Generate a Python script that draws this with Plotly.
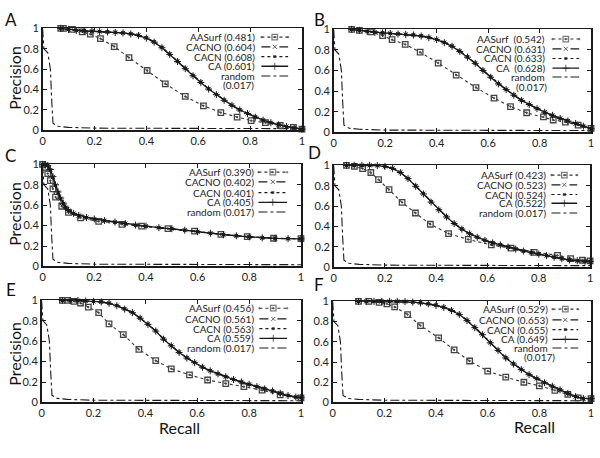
import plotly.graph_objects as go

W, H = 600, 458
FONT = "Lato"

# ---------------- data ----------------
tick_vals = [0, 0.2, 0.4, 0.6, 0.8, 1]
tick_text = ["0", "0.2", "0.4", "0.6", "0.8", "1"]

random_r = [0.0, 0.005, 0.02, 0.03, 0.035, 0.04, 0.06, 0.1, 0.2, 0.4, 0.6, 0.8, 1.0]
random_p = [1.0, 0.80, 0.76, 0.60, 0.30, 0.07, 0.04, 0.03, 0.022, 0.019, 0.018, 0.017, 0.017]

# Panel A
A_aas_r = [0.07, 0.08, 0.115, 0.153, 0.184, 0.223, 0.276, 0.333, 0.403, 0.473, 0.55, 0.62, 0.687, 0.75, 0.804, 0.859, 0.916, 0.967, 1.0]
A_aas_p = [1.0, 1.0, 0.99, 0.965, 0.943, 0.9, 0.822, 0.714, 0.587, 0.457, 0.333, 0.241, 0.175, 0.13, 0.095, 0.076, 0.048, 0.029, 0.013]
A_ca_r = [0.07, 0.1, 0.13, 0.16, 0.19, 0.22, 0.25, 0.28, 0.31, 0.34, 0.37, 0.40, 0.43, 0.46, 0.49, 0.52, 0.55, 0.58, 0.61, 0.64, 0.67, 0.70, 0.73, 0.76, 0.79, 0.82, 0.85, 0.88, 0.91, 0.94, 0.97, 1.0]
A_ca_p = [1.0, 0.99, 0.98, 0.975, 0.972, 0.968, 0.965, 0.96, 0.955, 0.945, 0.93, 0.905, 0.865, 0.81, 0.745, 0.675, 0.605, 0.535, 0.47, 0.405, 0.35, 0.295, 0.245, 0.2, 0.165, 0.13, 0.1, 0.075, 0.055, 0.038, 0.024, 0.012]
A_cacno_p = [1.0, 0.99, 0.98, 0.976, 0.972, 0.969, 0.965, 0.961, 0.956, 0.946, 0.932, 0.907, 0.867, 0.812, 0.747, 0.677, 0.607, 0.537, 0.472, 0.407, 0.351, 0.296, 0.246, 0.201, 0.166, 0.131, 0.1, 0.075, 0.055, 0.038, 0.024, 0.012]
A_cacn_p = [1.0, 0.99, 0.98, 0.976, 0.973, 0.969, 0.966, 0.962, 0.957, 0.947, 0.933, 0.908, 0.868, 0.814, 0.749, 0.679, 0.609, 0.539, 0.474, 0.409, 0.352, 0.297, 0.247, 0.202, 0.166, 0.131, 0.101, 0.076, 0.055, 0.038, 0.024, 0.012]

# Panel B
B_aas_r = [0.07, 0.1, 0.144, 0.19, 0.227, 0.278, 0.336, 0.406, 0.476, 0.553, 0.623, 0.687, 0.75, 0.815, 0.853, 0.9, 0.95, 1.0]
B_aas_p = [1.0, 0.99, 0.975, 0.94, 0.9, 0.854, 0.778, 0.673, 0.556, 0.435, 0.333, 0.25, 0.19, 0.15, 0.12, 0.1, 0.07, 0.038]
B_ca_r = [0.07, 0.1, 0.13, 0.16, 0.19, 0.22, 0.25, 0.28, 0.31, 0.34, 0.37, 0.40, 0.43, 0.46, 0.49, 0.52, 0.55, 0.58, 0.61, 0.64, 0.67, 0.70, 0.73, 0.76, 0.79, 0.82, 0.85, 0.88, 0.91, 0.94, 0.97, 1.0]
B_ca_p = [1.0, 0.99, 0.98, 0.97, 0.965, 0.96, 0.955, 0.95, 0.945, 0.935, 0.92, 0.9, 0.87, 0.835, 0.785, 0.73, 0.67, 0.6, 0.535, 0.47, 0.415, 0.36, 0.31, 0.27, 0.23, 0.195, 0.165, 0.135, 0.11, 0.085, 0.06, 0.035]
B_cacno_p = [1.0, 0.99, 0.98, 0.971, 0.966, 0.961, 0.956, 0.951, 0.946, 0.936, 0.921, 0.901, 0.872, 0.837, 0.787, 0.732, 0.672, 0.602, 0.537, 0.472, 0.416, 0.361, 0.311, 0.27, 0.23, 0.195, 0.165, 0.135, 0.11, 0.085, 0.06, 0.035]
B_cacn_p = [1.0, 0.99, 0.98, 0.971, 0.966, 0.961, 0.956, 0.951, 0.946, 0.937, 0.922, 0.902, 0.873, 0.838, 0.788, 0.733, 0.673, 0.603, 0.538, 0.473, 0.417, 0.362, 0.312, 0.271, 0.231, 0.196, 0.166, 0.136, 0.11, 0.085, 0.06, 0.035]

# Panel C
C_aas_r = [0.0, 0.01, 0.02, 0.03, 0.04, 0.05, 0.074, 0.1, 0.147, 0.217, 0.307, 0.383, 0.485, 0.588, 0.69, 0.792, 0.894, 1.0]
C_aas_p = [1.0, 0.97, 0.91, 0.84, 0.76, 0.68, 0.59, 0.53, 0.476, 0.441, 0.413, 0.394, 0.371, 0.346, 0.314, 0.292, 0.276, 0.273]
C_ca_r = [0.0, 0.01, 0.02, 0.03, 0.04, 0.05, 0.06, 0.07, 0.08, 0.09, 0.1, 0.12, 0.14, 0.17, 0.2, 0.24, 0.28, 0.32, 0.36, 0.4, 0.45, 0.5, 0.55, 0.6, 0.65, 0.7, 0.75, 0.8, 0.85, 0.9, 0.95, 1.0]
C_ca_p = [1.0, 1.0, 0.99, 0.95, 0.88, 0.8, 0.73, 0.67, 0.62, 0.58, 0.55, 0.52, 0.5, 0.48, 0.465, 0.45, 0.435, 0.42, 0.405, 0.395, 0.38, 0.37, 0.355, 0.34, 0.325, 0.31, 0.3, 0.29, 0.28, 0.275, 0.272, 0.27]
C_cacno_p = [1.0, 1.0, 0.99, 0.945, 0.875, 0.795, 0.725, 0.665, 0.615, 0.578, 0.548, 0.519, 0.499, 0.479, 0.464, 0.449, 0.434, 0.419, 0.404, 0.394, 0.38, 0.37, 0.355, 0.34, 0.325, 0.31, 0.3, 0.29, 0.28, 0.275, 0.272, 0.27]
C_cacn_p = [1.0, 1.0, 0.99, 0.943, 0.872, 0.792, 0.722, 0.662, 0.613, 0.576, 0.547, 0.518, 0.498, 0.479, 0.464, 0.449, 0.434, 0.419, 0.404, 0.394, 0.38, 0.37, 0.355, 0.34, 0.325, 0.31, 0.3, 0.29, 0.28, 0.275, 0.272, 0.27]

# Panel D
D_aas_r = [0.05, 0.081, 0.113, 0.145, 0.175, 0.216, 0.267, 0.319, 0.377, 0.448, 0.525, 0.615, 0.692, 0.782, 0.873, 0.924, 0.97, 1.0]
D_aas_p = [1.0, 0.99, 0.968, 0.93, 0.86, 0.763, 0.637, 0.533, 0.423, 0.331, 0.274, 0.22, 0.189, 0.148, 0.117, 0.085, 0.07, 0.063]
D_ca_r = [0.05, 0.08, 0.11, 0.14, 0.17, 0.2, 0.23, 0.26, 0.29, 0.32, 0.35, 0.38, 0.41, 0.44, 0.47, 0.5, 0.53, 0.56, 0.59, 0.62, 0.65, 0.68, 0.71, 0.74, 0.77, 0.8, 0.83, 0.86, 0.89, 0.92, 0.95, 0.98, 1.0]
D_ca_p = [1.0, 1.0, 1.0, 1.0, 0.998, 0.99, 0.97, 0.93, 0.87, 0.795, 0.72, 0.64, 0.565, 0.495, 0.43, 0.375, 0.33, 0.295, 0.265, 0.24, 0.22, 0.2, 0.18, 0.16, 0.145, 0.13, 0.115, 0.1, 0.085, 0.072, 0.065, 0.06, 0.058]
D_cacno_p = [1.0, 1.0, 1.0, 1.0, 0.998, 0.99, 0.971, 0.931, 0.871, 0.797, 0.722, 0.642, 0.566, 0.496, 0.431, 0.376, 0.331, 0.296, 0.266, 0.241, 0.22, 0.2, 0.18, 0.16, 0.145, 0.13, 0.115, 0.1, 0.085, 0.072, 0.065, 0.06, 0.058]
D_cacn_p = [1.0, 1.0, 1.0, 1.0, 0.998, 0.99, 0.971, 0.932, 0.872, 0.798, 0.723, 0.643, 0.567, 0.497, 0.432, 0.377, 0.331, 0.296, 0.266, 0.241, 0.221, 0.201, 0.181, 0.16, 0.145, 0.13, 0.115, 0.1, 0.085, 0.072, 0.065, 0.06, 0.058]

# Panel E
E_aas_r = [0.08, 0.1, 0.125, 0.15, 0.18, 0.22, 0.26, 0.315, 0.375, 0.44, 0.5, 0.57, 0.64, 0.71, 0.78, 0.85, 0.92, 1.0]
E_aas_p = [1.0, 1.0, 0.99, 0.975, 0.935, 0.88, 0.77, 0.665, 0.52, 0.41, 0.33, 0.27, 0.22, 0.185, 0.155, 0.12, 0.075, 0.045]
E_ca_r = [0.08, 0.11, 0.14, 0.17, 0.2, 0.23, 0.26, 0.29, 0.32, 0.35, 0.38, 0.41, 0.44, 0.47, 0.5, 0.53, 0.56, 0.59, 0.62, 0.65, 0.68, 0.71, 0.74, 0.77, 0.8, 0.83, 0.86, 0.89, 0.92, 0.95, 0.98, 1.0]
E_ca_p = [1.0, 1.0, 1.0, 0.995, 0.99, 0.985, 0.972, 0.948, 0.915, 0.88, 0.825, 0.765, 0.7, 0.62, 0.555, 0.49, 0.435, 0.39, 0.345, 0.31, 0.28, 0.252, 0.225, 0.2, 0.178, 0.155, 0.133, 0.113, 0.09, 0.068, 0.053, 0.048]
E_cacno_p = [1.0, 1.0, 1.0, 0.995, 0.99, 0.985, 0.973, 0.949, 0.917, 0.882, 0.827, 0.767, 0.702, 0.622, 0.557, 0.492, 0.437, 0.391, 0.346, 0.311, 0.281, 0.252, 0.225, 0.2, 0.178, 0.155, 0.133, 0.113, 0.09, 0.068, 0.053, 0.048]
E_cacn_p = [1.0, 1.0, 1.0, 0.995, 0.99, 0.986, 0.973, 0.95, 0.918, 0.883, 0.828, 0.768, 0.703, 0.623, 0.558, 0.493, 0.438, 0.392, 0.347, 0.312, 0.281, 0.253, 0.226, 0.201, 0.178, 0.155, 0.133, 0.113, 0.09, 0.068, 0.053, 0.048]

# Panel F
F_aas_r = [0.1, 0.14, 0.18, 0.21, 0.24, 0.29, 0.34, 0.41, 0.47, 0.53, 0.6, 0.67, 0.74, 0.8, 0.86, 0.91, 0.95, 1.0]
F_aas_p = [1.0, 1.0, 0.99, 0.975, 0.945, 0.87, 0.76, 0.64, 0.52, 0.41, 0.31, 0.25, 0.2, 0.165, 0.12, 0.08, 0.045, 0.038]
F_ca_r = [0.1, 0.13, 0.16, 0.19, 0.22, 0.25, 0.28, 0.31, 0.34, 0.37, 0.4, 0.43, 0.46, 0.49, 0.52, 0.55, 0.58, 0.61, 0.64, 0.67, 0.7, 0.73, 0.76, 0.79, 0.82, 0.85, 0.88, 0.91, 0.94, 0.97, 1.0]
F_ca_p = [1.0, 1.0, 1.0, 1.0, 1.0, 1.0, 0.998, 0.993, 0.985, 0.975, 0.96, 0.94, 0.91, 0.87, 0.81, 0.74, 0.67, 0.59, 0.515, 0.44, 0.38, 0.325, 0.275, 0.235, 0.195, 0.16, 0.125, 0.09, 0.058, 0.04, 0.038]
F_cacno_p = [1.0, 1.0, 1.0, 1.0, 1.0, 1.0, 0.998, 0.993, 0.986, 0.976, 0.962, 0.942, 0.912, 0.872, 0.812, 0.742, 0.672, 0.592, 0.517, 0.442, 0.381, 0.326, 0.276, 0.236, 0.196, 0.16, 0.125, 0.09, 0.058, 0.04, 0.038]
F_cacn_p = [1.0, 1.0, 1.0, 1.0, 1.0, 1.0, 0.998, 0.994, 0.987, 0.977, 0.963, 0.943, 0.913, 0.873, 0.813, 0.743, 0.673, 0.593, 0.518, 0.443, 0.382, 0.327, 0.277, 0.237, 0.197, 0.161, 0.126, 0.09, 0.058, 0.04, 0.038]

# legend labels
A_labels = ["AASurf (0.481)", "CACNO (0.604)", "CACN (0.608)", "CA (0.601)", "random", "(0.017)"]
B_labels = ["AASurf  (0.542)", "CACNO (0.631)", "CACN (0.633)", "CA  (0.628)", "random", "(0.017)"]
C_labels = ["AASurf (0.390)", "CACNO (0.402)", "CACN (0.401)", "CA (0.405)", "random (0.017)"]
D_labels = ["AASurf (0.423)", "CACNO (0.523)", "CACN (0.524)", "CA (0.522)", "random (0.017)"]
E_labels = ["AASurf (0.456)", "CACNO (0.561)", "CACN (0.563)", "CA (0.559)", "random (0.017)"]
F_labels = ["AASurf (0.529)", "CACNO (0.653)", "CACN (0.655)", "CA (0.649)", "random", "(0.017)"]

# ---------------- layout geometry (pixels) ----------------
geom = {
    # x_left, x_right, y_top, y_bottom
    "A": (40, 302, 22, 127),
    "B": (334, 594, 23, 129),
    "C": (40, 301, 162, 267),
    "D": (334, 593, 163, 268),
    "E": (39, 301, 302, 407),
    "F": (333, 594, 303, 407),
}
legend_geom = {
    # text right edge, sample x0, sample x1, row ys, extra-line (x_right, y)
    "A": (257, 261, 288, [31, 41, 51, 61, 71], (256, 80)),
    "B": (549, 555, 582, [33, 43, 53, 63, 72], (552, 82)),
    "C": (256, 258, 287, [170, 180, 191, 201, 211], None),
    "D": (551, 554, 580, [173, 183, 193, 202, 212], None),
    "E": (256, 259, 287, [310, 321, 331, 341, 351], None),
    "F": (553, 555, 581, [311, 322, 332, 342, 351], (560, 360)),
}
letter_pos = {"A": (8, 13), "B": (320, 13), "C": (8, 153), "D": (315, 150), "E": (8, 291), "F": (319, 286)}

data = {
    "A": (A_aas_r, A_aas_p, A_ca_r, A_cacno_p, A_cacn_p, A_ca_p, A_labels),
    "B": (B_aas_r, B_aas_p, B_ca_r, B_cacno_p, B_cacn_p, B_ca_p, B_labels),
    "C": (C_aas_r, C_aas_p, C_ca_r, C_cacno_p, C_cacn_p, C_ca_p, C_labels),
    "D": (D_aas_r, D_aas_p, D_ca_r, D_cacno_p, D_cacn_p, D_ca_p, D_labels),
    "E": (E_aas_r, E_aas_p, E_ca_r, E_cacno_p, E_cacn_p, E_ca_p, E_labels),
    "F": (F_aas_r, F_aas_p, F_ca_r, F_cacno_p, F_cacn_p, F_ca_p, F_labels),
}

INK = "#1a1a1a"
styles = {
    "AASurf": dict(line=dict(color="#333", width=1.1, dash="dot"),
                   marker=dict(symbol="square-open-dot", size=5.5, color="#444", line=dict(width=1.3, color="#444"))),
    "CACNO": dict(line=dict(color=INK, width=1.2, dash="dash"),
                  marker=dict(symbol="x-thin", size=4, color=INK, line=dict(width=1, color=INK))),
    "CACN": dict(line=dict(color=INK, width=1.2, dash="dot"),
                 marker=dict(symbol="square", size=3, color=INK, line=dict(width=0))),
    "CA": dict(line=dict(color=INK, width=1.3, dash="solid"),
               marker=dict(symbol="cross-thin", size=5, color=INK, line=dict(width=1, color=INK))),
    "random": dict(line=dict(color=INK, width=1.1, dash="dashdot"), marker=dict(size=0)),
}

fig = go.Figure()
annotations = []
layout_axes = {}


def px2paper(x, y):
    return x / W, 1 - y / H


for i, key in enumerate(["A", "B", "C", "D", "E", "F"]):
    n = "" if i == 0 else str(i + 1)
    xa, ya = "x" + n, "y" + n
    xl, xr, yt, yb = geom[key]
    axis_common = dict(
        range=[0, 1], tickvals=tick_vals, ticktext=tick_text, ticks="inside", ticklen=4, tickwidth=1,
        tickcolor=INK, showline=True, linecolor=INK, linewidth=1.6, mirror="allticks",
        showgrid=False, zeroline=False, tickfont=dict(family=FONT, size=11, color="#222"),
        ticklabeloverflow="allow",
    )
    layout_axes["xaxis" + n] = dict(domain=[xl / W, xr / W], anchor=ya, **axis_common)
    layout_axes["yaxis" + n] = dict(domain=[1 - yb / H, 1 - yt / H], anchor=xa, **axis_common)
    aas_r, aas_p, ca_r, cacno_p, cacn_p, ca_p, labels = data[key]
    series = [
        ("random", random_r, random_p),
        ("AASurf", aas_r, aas_p),
        ("CACN", ca_r, cacn_p),
        ("CACNO", ca_r, cacno_p),
        ("CA", ca_r, ca_p),
    ]
    for name, rr, pp in series:
        st = styles[name]
        fig.add_trace(go.Scatter(
            x=rr, y=pp, xaxis=xa, yaxis=ya, name=name, showlegend=False,
            mode="lines" if name == "random" else "lines+markers",
            line=st["line"], marker=st["marker"], cliponaxis=False,
        ))

    # hand-drawn legend (text right-aligned, sample to its right)
    tr, sx0, sx1, rows, extra = legend_geom[key]
    order = ["AASurf", "CACNO", "CACN", "CA", "random"]
    for j, name in enumerate(order):
        ry = rows[j]
        px, py = px2paper(tr, ry)
        annotations.append(dict(x=px, y=py, xref="paper", yref="paper", text=labels[j],
                                showarrow=False, xanchor="right", yanchor="middle",
                                font=dict(family=FONT, size=10, color="#222")))
        dx0 = (sx0 - xl) / (xr - xl)
        dx1 = (sx1 - xl) / (xr - xl)
        dy = (yb - ry) / (yb - yt)
        st = styles[name]
        fig.add_trace(go.Scatter(
            x=[dx0, (dx0 + dx1) / 2, dx1], y=[dy, dy, dy], xaxis=xa, yaxis=ya, showlegend=False,
            mode="lines" if name == "random" else "lines+markers",
            line=st["line"],
            marker=dict(st["marker"], size=[0, st["marker"].get("size", 0), 0]),
            cliponaxis=False, hoverinfo="skip",
        ))
    if extra is not None:
        ex, ey = extra
        px, py = px2paper(ex, ey)
        annotations.append(dict(x=px, y=py, xref="paper", yref="paper", text=labels[5],
                                showarrow=False, xanchor="right", yanchor="middle",
                                font=dict(family=FONT, size=10, color="#222")))
    lx, ly = letter_pos[key]
    px, py = px2paper(lx, ly)
    annotations.append(dict(x=px, y=py, xref="paper", yref="paper", text=key, showarrow=False,
                            xanchor="center", yanchor="middle",
                            font=dict(family=FONT, size=17, color="#111")))

# axis titles
for yc in [73, 213, 357]:
    px, py = px2paper(12, yc)
    annotations.append(dict(x=px, y=py, xref="paper", yref="paper", text="Precision", textangle=-90,
                            showarrow=False, xanchor="center", yanchor="middle",
                            font=dict(family=FONT, size=16, color="#111")))
for xc, yc in [(178, 433), (537, 432)]:
    px, py = px2paper(xc, yc)
    annotations.append(dict(x=px, y=py, xref="paper", yref="paper", text="Recall",
                            showarrow=False, xanchor="center", yanchor="middle",
                            font=dict(family=FONT, size=16, color="#111")))

fig.update_layout(
    width=W, height=H, margin=dict(l=0, r=0, t=0, b=0),
    paper_bgcolor="white", plot_bgcolor="white", showlegend=False,
    annotations=annotations, **layout_axes,
)
fig.write_html(
    "out.html",
    config={"displayModeBar": False, "staticPlot": True},
    post_script="document.body.style.margin='0';document.body.style.padding='0';document.body.style.overflow='hidden';",
)
